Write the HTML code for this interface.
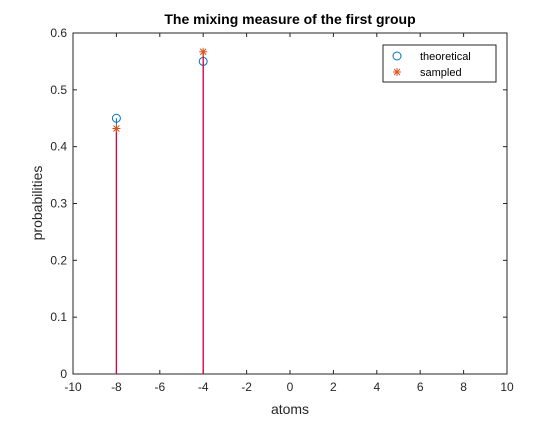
<!DOCTYPE html>
<html><head><meta charset="utf-8"><style>
body{margin:0;background:#fff;}
text{font-family:"Liberation Sans",Helvetica,sans-serif;}
</style></head><body>
<svg id="chart" width="560" height="420" xmlns="http://www.w3.org/2000/svg">
<rect width="560" height="420" fill="#fff"/>
</svg>
<script>
const atoms=[-8,-4];
const theoretical=[0.45,0.55];
const sampled=[0.432,0.567];
const xTicks=[-10,-8,-6,-4,-2,0,2,4,6,8,10];
const yTicks=[0,0.1,0.2,0.3,0.4,0.5,0.6];
const L=73,R=507,T=33,B=374;
const sx=v=>L+(v+10)/20*(R-L);
const sy=v=>B-v/0.6*(B-T);
const svg=document.getElementById('chart');
const NS='http://www.w3.org/2000/svg';
function mk(tag,attrs,name,txt){const e=document.createElementNS(NS,tag);for(const k in attrs)e.setAttribute(k,attrs[k]);


if(txt!==undefined)e.textContent=txt;svg.appendChild(e);return e;}
mk('rect',{x:L,y:T,width:R-L,height:B-T,fill:'#fff',stroke:'#262626','stroke-width':1},'plot-area');
xTicks.forEach(t=>{const x=sx(t);
mk('line',{x1:x,x2:x,y1:B,y2:B-4,stroke:'#262626'},'x-tick');
mk('line',{x1:x,x2:x,y1:T,y2:T+4,stroke:'#262626'},'x-tick-top');
mk('text',{x:x,y:B+17,'text-anchor':'middle','font-size':12,fill:'#262626'},'x-tick-label',String(t));});
yTicks.forEach(t=>{const y=sy(t);
mk('line',{x1:L,x2:L+4,y1:y,y2:y,stroke:'#262626'},'y-tick');
mk('line',{x1:R,x2:R-4,y1:y,y2:y,stroke:'#262626'},'y-tick-right');
mk('text',{x:L-6,y:y+4,'text-anchor':'end','font-size':12,fill:'#262626'},'y-tick-label',String(t));});
mk('text',{x:290,y:414,'text-anchor':'middle','font-size':14,fill:'#262626'},'x-axis-title','atoms');
mk('text',{x:42,y:203,'text-anchor':'middle','font-size':14,fill:'#262626',transform:'rotate(-90 42 203)'},'y-axis-title','probabilities');
mk('text',{x:290,y:24,'text-anchor':'middle','font-size':14,'font-weight':'bold',fill:'#000'},'chart-title','The mixing measure of the first group');
atoms.forEach((a,i)=>{const x=sx(a);
mk('line',{x1:x,x2:x,y1:B,y2:sy(theoretical[i]),stroke:'#0072BD','stroke-width':1},'theoretical-stem');
mk('circle',{cx:x,cy:sy(theoretical[i]),r:4,fill:'none',stroke:'#0072BD','stroke-width':1},'theoretical-marker');
mk('line',{x1:x,x2:x,y1:B,y2:sy(sampled[i]),stroke:'#e0003c','stroke-width':1.3},'sampled-stem');
const y=sy(sampled[i]);
mk('path',{d:`M${x-4},${y}H${x+4}M${x},${y-4}V${y+4}M${x-3},${y-3}L${x+3},${y+3}M${x-3},${y+3}L${x+3},${y-3}`,stroke:'#D95319','stroke-width':1,fill:'none'},'sampled-marker');});
mk('rect',{x:383,y:45,width:113,height:37,fill:'#fff',stroke:'#262626','stroke-width':1},'legend-box');
mk('circle',{cx:397,cy:56,r:4,fill:'none',stroke:'#0072BD'},'legend-theoretical-marker');
mk('text',{x:420,y:60,'font-size':11,fill:'#000'},'legend-theoretical-label','theoretical');
mk('path',{d:'M393,72H401M397,68V76M394,69L400,75M394,75L400,69',stroke:'#D95319',fill:'none'},'legend-sampled-marker');
mk('text',{x:420,y:76,'font-size':11,fill:'#000'},'legend-sampled-label','sampled');
</script>
</body></html>
